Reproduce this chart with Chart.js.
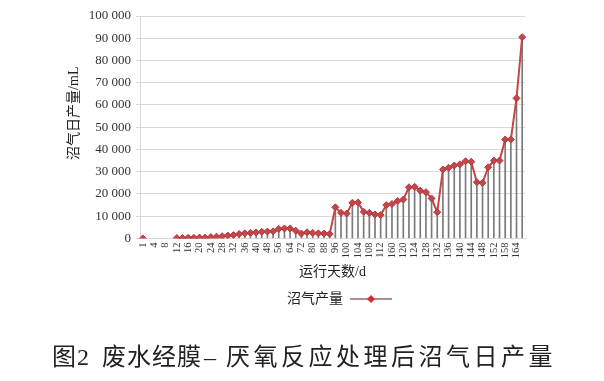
<!DOCTYPE html>
<html>
<head>
<meta charset="utf-8">
<script src="https://cdn.jsdelivr.net/npm/chart.js@4.4.1/dist/chart.umd.min.js"></script>
<style>
  html, body { margin: 0; padding: 0; background: #fff; }
  #wrap { position: relative; width: 604px; height: 381px; }
  #c { position: absolute; left: 0; top: 0; }
  .cap {
    position: absolute; top: 340px; white-space: pre;
    font-family: 'Liberation Serif', 'Noto Sans CJK SC', serif;
    font-size: 24px; color: #222; line-height: 34px;
  }
</style>
</head>
<body>
<div id="wrap">
  <canvas id="c" width="604" height="381"></canvas>
  <div class="cap" style="left:52px;letter-spacing:1px">图2</div>
  <div class="cap" style="left:102px;letter-spacing:1px">废水经膜</div>
  <div class="cap" style="left:204px">–</div>
  <div class="cap" style="left:226px;letter-spacing:3.5px">厌氧反应处理后沼气日产量</div>
</div>
<script>
// categories (only every second category carries a printed day label)
const dayLabels = [
  '1','','4','','8','','12','','16','','20','','24','','28','','32','','36','',
  '40','','48','','56','','64','','72','','80','','88','','96','','100','','104','',
  '108','','112','','160','','120','','124','','128','','132','','136','','140','',
  '144','','148','','152','','158','','164',''
];
// daily biogas production, mL
const biogas = [
  0, null, null, null, null, null,
  200, 200, 300, 300, 400, 400, 600, 800, 1000, 1300, 1500, 2000, 2300, 2500,
  2700, 3000, 3100, 3200, 4300, 4500, 4500, 3500, 2200, 2800, 2500, 2300, 2200, 2000,
  14000, 11500, 11200, 16000, 16200, 12000, 11500, 10800, 10500, 15000, 15500,
  16800, 17500, 23000, 23200, 21500, 20800, 18000, 11800,
  31000, 31800, 32800, 33300, 34700, 34500, 25300, 25000, 32000, 35000, 35000,
  44500, 44500, 63000, 90500
];
const yTicks = [0, 10000, 20000, 30000, 40000, 50000, 60000, 70000, 80000, 90000, 100000];
const seriesName = '沼气产量';
const xTitle = '运行天数/d';
const yTitle = '沼气日产量/mL';

const serif = "'Liberation Serif', 'Noto Sans CJK SC', serif";

// legend marker: line with a diamond
const mk = document.createElement('canvas');
mk.width = 42; mk.height = 10;
(function () {
  const g = mk.getContext('2d');
  g.strokeStyle = '#5a2323'; g.lineWidth = 1.2;
  g.beginPath(); g.moveTo(0, 5); g.lineTo(42, 5); g.stroke();
  g.fillStyle = '#d42a2a';
  g.beginPath(); g.moveTo(21, 1); g.lineTo(25, 5); g.lineTo(21, 9); g.lineTo(17, 5); g.closePath(); g.fill();
})();

const fmt = v => String(v).replace(/\B(?=(\d{3})+(?!\d))/g, ' ');

new Chart(document.getElementById('c'), {
  type: 'line',
  data: {
    labels: dayLabels,
    datasets: [
      {
        type: 'line',
        label: seriesName,
        data: biogas,
        borderColor: '#c4464a',
        borderWidth: 2,
        backgroundColor: '#c4464a',
        pointStyle: 'rectRot',
        pointRadius: 3.5,
        pointBorderColor: '#b33a3e',
        pointBorderWidth: 1,
        spanGaps: false,
        tension: 0,
        order: 0
      },
      {
        type: 'bar',
        label: 'drop',
        data: biogas,
        backgroundColor: '#7a7a7a',
        barThickness: 1,
        order: 1
      }
    ]
  },
  options: {
    responsive: false,
    animation: false,
    layout: { padding: { left: 66, right: 79, top: 16, bottom: 65 } },
    scales: {
      x: {
        offset: true,
        grid: { display: false, drawTicks: false },
        border: { display: true, color: '#d9d9d9' },
        ticks: {
          autoSkip: false, maxRotation: 90, minRotation: 90, padding: 4,
          color: '#333', font: { family: serif, size: 10.5 }
        },
        title: {
          display: true, text: xTitle, color: '#222',
          font: { family: serif, size: 14 }, padding: { top: 2, bottom: 1 }
        }
      },
      y: {
        min: 0, max: 100000,
        afterBuildTicks: axis => { axis.ticks = yTicks.map(v => ({ value: v })); },
        grid: { color: '#d9d9d9', tickLength: 4 },
        border: { display: true, color: '#d9d9d9' },
        ticks: {
          padding: 5, color: '#333', font: { family: serif, size: 13 },
          callback: v => fmt(v)
        },
        title: {
          display: true, text: '\u3000\u3000' + yTitle, color: '#222',
          font: { family: serif, size: 14 }, padding: { top: 0, bottom: 1 }
        }
      }
    },
    plugins: {
      tooltip: { enabled: false },
      legend: {
        position: 'bottom',
        fullSize: false,
        rtl: true,
        labels: {
          usePointStyle: true,
          pointStyleWidth: 42,
          padding: 10,
          color: '#222',
          font: { family: serif, size: 14 },
          generateLabels: chart => {
            const items = Chart.defaults.plugins.legend.labels.generateLabels(chart)
              .filter(it => it.datasetIndex === 0);
            items.forEach(it => { it.pointStyle = mk; it.text = '\u3000' + it.text; });
            return items;
          }
        }
      }
    }
  }
});
</script>
</body>
</html>
